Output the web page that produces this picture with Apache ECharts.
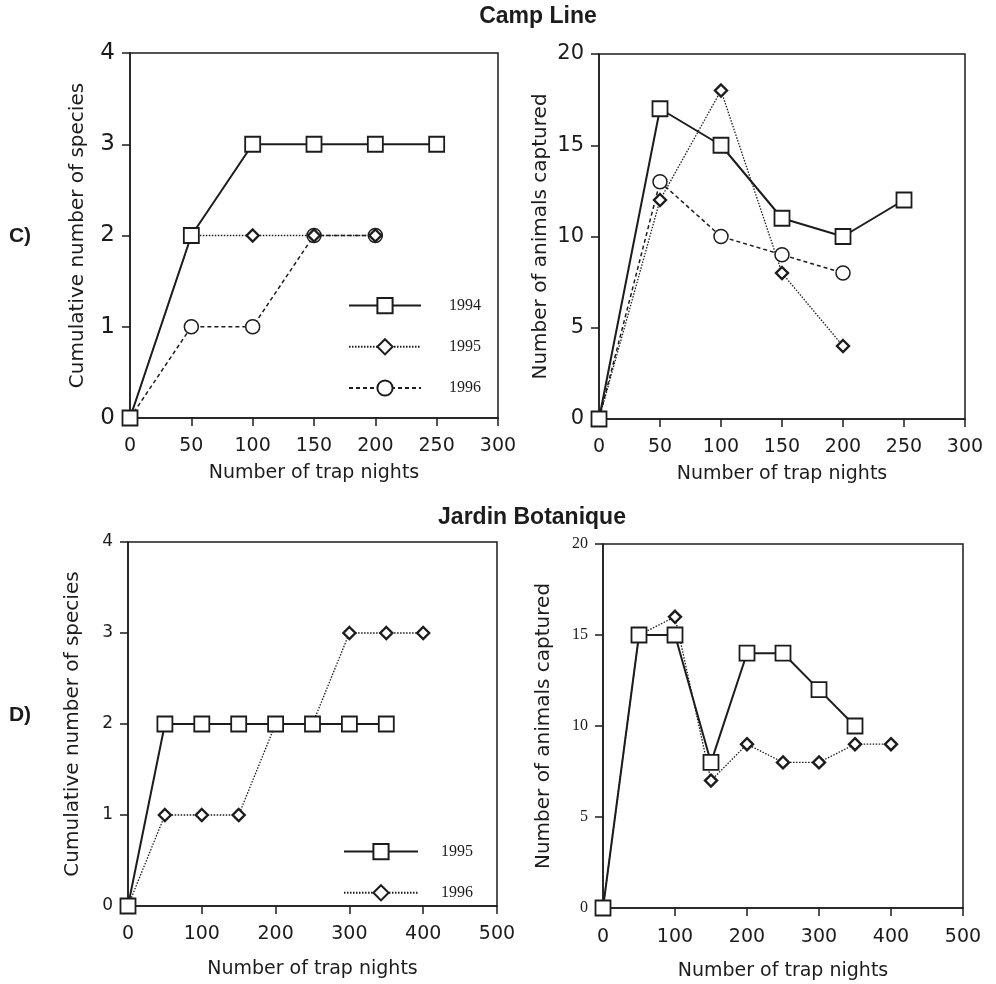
<!DOCTYPE html>
<html>
<head>
<meta charset="utf-8">
<script src="https://cdn.jsdelivr.net/npm/echarts@6/dist/echarts.min.js"></script>
<style>
  html, body { margin: 0; padding: 0; background: #fff; }
  #chart { width: 996px; height: 984px; }
</style>
</head>
<body>
<div id="chart"></div>
<script>
// trap nights (x values)
const campNights = [0, 50, 100, 150, 200, 250];
const jardinNights = [0, 50, 100, 150, 200, 250, 300, 350, 400];

// Camp Line
const campSpecies1994 = [0, 2, 3, 3, 3, 3];
const campSpecies1995 = [0, 2, 2, 2, 2];
const campSpecies1996 = [0, 1, 1, 2, 2];
const campAnimals1994 = [0, 17, 15, 11, 10, 12];
const campAnimals1995 = [0, 12, 18, 8, 4];
const campAnimals1996 = [0, 13, 10, 9, 8];

// Jardin Botanique
const jardinSpecies1995 = [0, 2, 2, 2, 2, 2, 2, 2];
const jardinSpecies1996 = [0, 1, 1, 1, 2, 2, 3, 3, 3];
const jardinAnimals1995 = [0, 15, 15, 8, 14, 14, 12, 10];
const jardinAnimals1996 = [0, 15, 16, 7, 9, 8, 8, 9, 9];

const INK = '#1c1c1c';
const SANS = 'DejaVu Sans';

const chart = echarts.init(document.getElementById('chart'));

function pairs(xs, ys) {
  return ys.map((y, i) => [xs[i], y]);
}

// three marker/line looks used in the figure
const looks = {
  solid: {
    symbol: 'rect', symbolSize: 15,
    lineStyle: { color: INK, width: 2, type: 'solid' },
    itemStyle: { color: '#fff', borderColor: INK, borderWidth: 1.8 }
  },
  dotted: {
    symbol: 'diamond', symbolSize: 12,
    lineStyle: { color: INK, width: 1.3, type: [1.5, 1.5] },
    itemStyle: { color: '#fff', borderColor: INK, borderWidth: 2.4 }
  },
  dashed: {
    symbol: 'circle', symbolSize: 14,
    lineStyle: { color: INK, width: 1.5, type: [4, 3] },
    itemStyle: { color: '#fff', borderColor: INK, borderWidth: 1.5 }
  }
};

function line(name, idx, xs, ys, look) {
  return Object.assign({
    name: name,
    type: 'line',
    xAxisIndex: idx,
    yAxisIndex: idx,
    data: pairs(xs, ys),
    showAllSymbol: true,
    animation: false
  }, looks[look]);
}

function xAxis(idx, max, interval, labelMargin, nameGap) {
  return {
    type: 'value', gridIndex: idx, min: 0, max: max, interval: interval,
    name: 'Number of trap nights', nameLocation: 'middle', nameGap: nameGap,
    nameTextStyle: { fontFamily: SANS, fontSize: 19, color: INK },
    axisLine: { lineStyle: { color: INK, width: 1.5 } },
    axisTick: { length: 8, lineStyle: { color: INK, width: 1.5 } },
    axisLabel: { fontFamily: SANS, fontSize: 19, color: INK, margin: labelMargin },
    splitLine: { show: false }
  };
}

function yAxis(idx, max, interval, name, font, size, nameGap) {
  return {
    type: 'value', gridIndex: idx, min: 0, max: max, interval: interval,
    name: name, nameLocation: 'middle', nameGap: nameGap,
    nameTextStyle: { fontFamily: SANS, fontSize: 20, color: INK },
    axisLine: { show: true, lineStyle: { color: INK, width: 1.5 } },
    axisTick: { show: true, length: 8, lineStyle: { color: INK, width: 1.5 } },
    axisLabel: { fontFamily: font, fontSize: size, color: INK, margin: 15 },
    splitLine: { show: false }
  };
}

const frame = { show: true, borderColor: INK, borderWidth: 1.5, backgroundColor: 'transparent' };

const option = {
  backgroundColor: '#fff',
  animation: false,
  grid: [
    Object.assign({ left: 130, top: 53, width: 368, height: 365 }, frame),
    Object.assign({ left: 599, top: 54, width: 366, height: 365 }, frame),
    Object.assign({ left: 128, top: 542, width: 369, height: 364 }, frame),
    Object.assign({ left: 603, top: 544, width: 360, height: 364 }, frame)
  ],
  xAxis: [
    xAxis(0, 300, 50, 19, 46),
    xAxis(1, 300, 50, 19, 46),
    xAxis(2, 500, 100, 19, 54),
    xAxis(3, 500, 100, 20, 54)
  ],
  yAxis: [
    yAxis(0, 4, 1, 'Cumulative number of species', SANS, 23, 42),
    yAxis(1, 20, 5, 'Number of animals captured', SANS, 21, 48),
    yAxis(2, 4, 1, 'Cumulative number of species', SANS, 17, 45),
    yAxis(3, 20, 5, 'Number of animals captured', 'Liberation Serif', 16, 49)
  ],
  legend: [
    {
      data: ['Camp 1994', 'Camp 1995', 'Camp 1996'],
      orient: 'vertical', left: 343, top: 292,
      itemWidth: 72, itemHeight: 19, itemGap: 24,
      formatter: n => n.split(' ')[1],
      textStyle: { fontFamily: 'Liberation Serif', fontSize: 16, color: INK, padding: [0, 0, 0, 23] },
      selectedMode: false
    },
    {
      data: ['Jardin 1995', 'Jardin 1996'],
      orient: 'vertical', left: 338, top: 838,
      itemWidth: 74, itemHeight: 19, itemGap: 24,
      formatter: n => n.split(' ')[1],
      textStyle: { fontFamily: 'Liberation Serif', fontSize: 16, color: INK, padding: [0, 0, 0, 18] },
      selectedMode: false
    }
  ],
  graphic: [
    { type: 'text', x: 538, y: 17, style: { text: 'Camp Line', font: 'bold 23px "Liberation Sans", Arial', fill: INK, textAlign: 'center', textVerticalAlign: 'middle', verticalAlign: 'middle' } },
    { type: 'text', x: 532, y: 518, style: { text: 'Jardin Botanique', font: 'bold 23px "Liberation Sans", Arial', fill: INK, textAlign: 'center', textVerticalAlign: 'middle', verticalAlign: 'middle' } },
    { type: 'text', x: 20, y: 236, style: { text: 'C)', font: 'bold 21px "Liberation Sans", Arial', fill: INK, textAlign: 'center', textVerticalAlign: 'middle', verticalAlign: 'middle' } },
    { type: 'text', x: 20, y: 715, style: { text: 'D)', font: 'bold 21px "Liberation Sans", Arial', fill: INK, textAlign: 'center', textVerticalAlign: 'middle', verticalAlign: 'middle' } }
  ],
  series: [
    line('Camp 1996', 0, campNights, campSpecies1996, 'dashed'),
    line('Camp 1995', 0, campNights, campSpecies1995, 'dotted'),
    line('Camp 1994', 0, campNights, campSpecies1994, 'solid'),
    line('Camp 1996', 1, campNights, campAnimals1996, 'dashed'),
    line('Camp 1995', 1, campNights, campAnimals1995, 'dotted'),
    line('Camp 1994', 1, campNights, campAnimals1994, 'solid'),
    line('Jardin 1996', 2, jardinNights, jardinSpecies1996, 'dotted'),
    line('Jardin 1995', 2, jardinNights, jardinSpecies1995, 'solid'),
    line('Jardin 1996', 3, jardinNights, jardinAnimals1996, 'dotted'),
    line('Jardin 1995', 3, jardinNights, jardinAnimals1995, 'solid')
  ]
};

chart.setOption(option);
</script>
</body>
</html>
